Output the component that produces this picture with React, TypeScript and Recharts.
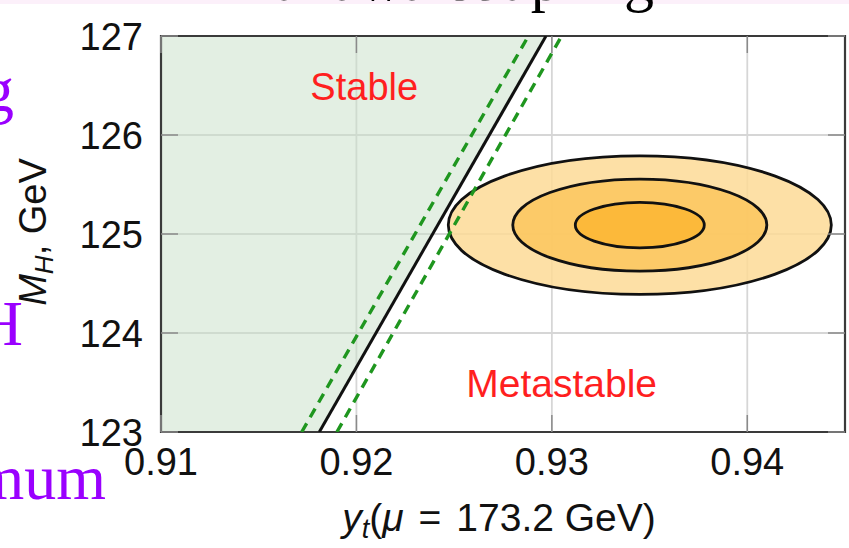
import React from "react";
import {
  Area,
  CartesianGrid,
  ComposedChart,
  Line,
  ReferenceArea,
  ReferenceDot,
  XAxis,
  YAxis
} from "recharts";

const W = 849;
const H = 548;

// plot box in pixels (used for inward tick marks)
const PLOT_LEFT = 161;
const PLOT_RIGHT = 845;
const PLOT_TOP = 36;
const PLOT_BOTTOM = 432;
const INWARD = 17;

const SANS = "'Liberation Sans', Arial, Helvetica, sans-serif";
const SERIF = "'Liberation Serif', 'Times New Roman', serif";

// axes
const xDomain = [0.91, 0.945];
const xTicks = [0.91, 0.92, 0.93, 0.94];
const yDomain = [123, 127];
const yTicks = [123, 124, 125, 126, 127];

// stability bound: central line and its dashed error band
const boundMh = [123, 127];
const boundYt = [0.9181, 0.9297];
const boundLowYt = [0.9172, 0.9288];
const boundHighYt = [0.919, 0.9305];

// shaded stable region (left of the central bound)
const stableYt = [0.91, 0.9181, 0.9297];
const stableLow = [123, 123, 127];
const stableHigh = [127, 127, 127];

// measured (yt, MH) with 1, 2, 3 sigma contours
const bestYt = 0.9345;
const bestMh = 125.09;
const sigmaYt = [0.0033, 0.0065, 0.0098];
const sigmaMh = [0.23, 0.465, 0.7];
const contourFill = ["#fbb633", "#fcc65d", "#fdda97"];

const boundLine = boundMh.map((m, i) => ({ x: boundYt[i], y: m }));
const boundLowLine = boundMh.map((m, i) => ({ x: boundLowYt[i], y: m }));
const boundHighLine = boundMh.map((m, i) => ({ x: boundHighYt[i], y: m }));
const stableRows = stableYt.map((x, i) => ({ x, band: [stableLow[i], stableHigh[i]] }));
const contours = sigmaYt
  .map((sx, i) => ({
    x1: bestYt - sx,
    x2: bestYt + sx,
    y1: bestMh - sigmaMh[i],
    y2: bestMh + sigmaMh[i],
    fill: contourFill[i]
  }))
  .reverse();

function XTick({ x, y, payload }: any) {
  return (
    <g>
      <line x1={x} x2={x} y1={PLOT_BOTTOM} y2={PLOT_BOTTOM - INWARD} stroke="#8a8a8a" strokeWidth={1.5} />
      <line x1={x} x2={x} y1={PLOT_TOP} y2={PLOT_TOP + INWARD} stroke="#8a8a8a" strokeWidth={1.5} />
      <text x={x} y={y} dy="0.72em" textAnchor="middle" fontSize={38} fill="#111" fontFamily={SANS}>
        {Number(payload.value).toFixed(2)}
      </text>
    </g>
  );
}

function YTick({ x, y, payload }: any) {
  return (
    <g>
      <line x1={PLOT_LEFT} x2={PLOT_LEFT + INWARD} y1={y} y2={y} stroke="#8a8a8a" strokeWidth={1.5} />
      <line x1={PLOT_RIGHT - INWARD} x2={PLOT_RIGHT} y1={y} y2={y} stroke="#8a8a8a" strokeWidth={1.5} />
      <text x={x} y={y} dy="0.36em" textAnchor="end" fontSize={38} fill="#111" fontFamily={SANS}>
        {payload.value}
      </text>
    </g>
  );
}

function XTitle({ viewBox }: any) {
  const cx = viewBox.x + viewBox.width / 2 - 4;
  return (
    <text x={cx} y={viewBox.y + 99} textAnchor="middle" fontSize={39} fill="#111" fontFamily={SANS}>
      <tspan fontStyle="italic">y</tspan>
      <tspan fontStyle="italic" fontSize={27} dy={7}>t</tspan>
      <tspan dy={-7}>(</tspan>
      <tspan fontStyle="italic">μ</tspan>
      <tspan dx={15}>=</tspan>
      <tspan dx={15}>173.2 GeV)</tspan>
    </text>
  );
}

function YTitle() {
  return (
    <text
      transform="translate(46, 232) rotate(-90)"
      textAnchor="middle"
      fontSize={38}
      fill="#111"
      fontFamily={SANS}
    >
      <tspan fontStyle="italic">M</tspan>
      <tspan fontStyle="italic" fontSize={26} dy={7}>H</tspan>
      <tspan dy={-7}>, GeV</tspan>
    </text>
  );
}

function Contour(props: any) {
  const { x, y, width, height, fill } = props;
  return (
    <ellipse
      cx={x + width / 2}
      cy={y + height / 2}
      rx={width / 2}
      ry={height / 2}
      fill={fill}
      fillOpacity={0.85}
      stroke="#111"
      strokeWidth={2.8}
    />
  );
}

export default function App() {
  return (
    <div
      style={{
        position: "absolute",
        left: 0,
        top: 0,
        width: W,
        height: H,
        overflow: "hidden",
        background: "#fff",
        fontFamily: SANS
      }}
    >
      <ComposedChart width={W} height={H} margin={{ top: PLOT_TOP, right: W - PLOT_RIGHT, bottom: 0, left: 0 }}>
        <CartesianGrid stroke="#d6d6d6" strokeWidth={1.8} />
        <XAxis
          type="number"
          dataKey="x"
          domain={xDomain}
          ticks={xTicks}
          allowDataOverflow
          height={H - PLOT_BOTTOM}
          axisLine={false}
          tickLine={false}
          tickSize={0}
          tickMargin={16}
          tick={<XTick />}
          label={(p: any) => <XTitle {...p} />}
        />
        <YAxis
          type="number"
          domain={yDomain}
          ticks={yTicks}
          allowDataOverflow
          width={PLOT_LEFT}
          axisLine={false}
          tickLine={false}
          tickSize={0}
          tickMargin={18}
          tick={<YTick />}
          label={() => <YTitle />}
        />
        <Area
          data={stableRows}
          dataKey="band"
          type="linear"
          fill="#c8e0c8"
          fillOpacity={0.5}
          stroke="none"
          isAnimationActive={false}
        />
        <Line
          data={boundLowLine}
          dataKey="y"
          type="linear"
          stroke="#1f961f"
          strokeWidth={3.4}
          strokeDasharray="10 7"
          dot={false}
          isAnimationActive={false}
        />
        <Line
          data={boundHighLine}
          dataKey="y"
          type="linear"
          stroke="#1f961f"
          strokeWidth={3.4}
          strokeDasharray="10 7"
          dot={false}
          isAnimationActive={false}
        />
        {contours.map((c, i) => (
          <ReferenceArea
            key={i}
            x1={c.x1}
            x2={c.x2}
            y1={c.y1}
            y2={c.y2}
            shape={(p: any) => <Contour {...p} fill={c.fill} />}
          />
        ))}
        <Line
          data={boundLine}
          dataKey="y"
          type="linear"
          stroke="#111"
          strokeWidth={3}
          dot={false}
          isAnimationActive={false}
        />
        <ReferenceDot
          x={0.9204}
          y={126.49}
          r={0}
          fill="none"
          stroke="none"
          label={{ value: "Stable", position: "center", fill: "#ff1f1f", fontSize: 38 }}
        />
        <ReferenceDot
          x={0.9305}
          y={123.49}
          r={0}
          fill="none"
          stroke="none"
          label={{ value: "Metastable", position: "center", fill: "#ff1f1f", fontSize: 39 }}
        />
        <ReferenceArea
          x1={xDomain[0]}
          x2={xDomain[1]}
          y1={yDomain[0]}
          y2={yDomain[1]}
          fill="none"
          fillOpacity={0}
          stroke="#3a3a3a"
          strokeWidth={2.2}
        />
      </ComposedChart>
      {/* slide text around the figure */}
      <svg
        width={W}
        height={H}
        style={{ position: "absolute", left: 0, top: 0, pointerEvents: "none" }}
      >
        <rect x={0} y={0} width={W} height={4} fill="#fcf0fa" />
        <text x={654} y={0} textAnchor="end" fontFamily={SERIF} fontSize={60} fill="#000">
          Yukawa coupling
        </text>
        <text x={14} y={111} textAnchor="end" fontFamily={SERIF} fontSize={64} fill="#9a00ff">
          coupling
        </text>
        <text x={23} y={345} textAnchor="end" fontFamily={SERIF} fontSize={64} fill="#9a00ff">
          H
        </text>
        <text x={106} y={499} textAnchor="end" fontFamily={SERIF} fontSize={64} fill="#9a00ff">
          minimum
        </text>
      </svg>
    </div>
  );
}
